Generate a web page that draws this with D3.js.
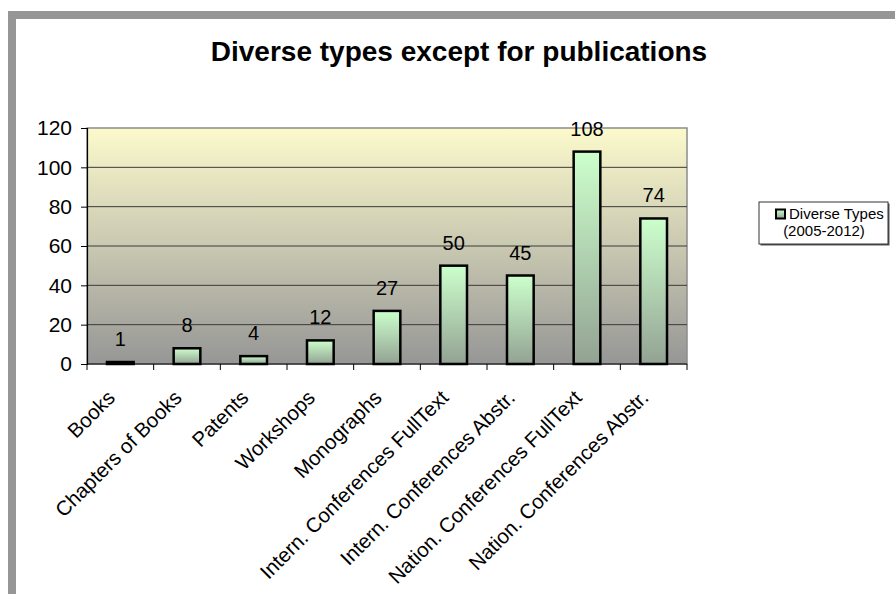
<!DOCTYPE html>
<html>
<head>
<meta charset="utf-8">
<script src="https://cdn.jsdelivr.net/npm/d3@7"></script>
<style>
  body { margin: 0; background: #fff; }
  svg { display: block; font-family: Arial, "Liberation Sans", sans-serif; }
</style>
</head>
<body>
<div id="chart"></div>
<script>
// Chart data
const categories = [
  'Books', 'Chapters of Books', 'Patents', 'Workshops', 'Monographs',
  'Intern. Conferences FullText', 'Intern. Conferences Abstr.',
  'Nation. Conferences FullText', 'Nation. Conferences Abstr.'
];
const values = [1, 8, 4, 12, 27, 50, 45, 108, 74];
const yTicks = [0, 20, 40, 60, 80, 100, 120];
const seriesName = ['Diverse Types', '(2005-2012)'];
const title = 'Diverse types except for publications';

const W = 895, H = 594;
const plot = { left: 87, top: 128, right: 687, bottom: 364 };

const svg = d3.select('#chart').append('svg')
  .attr('width', W)
  .attr('height', H);

const defs = svg.append('defs');

// plot area background gradient (pale yellow -> gray)
const bgGrad = defs.append('linearGradient')
  .attr('id', 'bgGrad')
  .attr('x1', 0).attr('y1', 0).attr('x2', 0).attr('y2', 1);
bgGrad.append('stop').attr('offset', '0%').attr('stop-color', '#fcfacc');
bgGrad.append('stop').attr('offset', '100%').attr('stop-color', '#969696');

// bar gradient (light green -> gray green)
const barGrad = defs.append('linearGradient')
  .attr('id', 'barGrad')
  .attr('x1', 0).attr('y1', 0).attr('x2', 0).attr('y2', 1);
barGrad.append('stop').attr('offset', '0%').attr('stop-color', '#ccffcc');
barGrad.append('stop').attr('offset', '100%').attr('stop-color', '#93a293');

// outer gray frame (cut off at right and bottom)
svg.append('rect')
  .attr('x', 12).attr('y', 15)
  .attr('width', W + 20).attr('height', H + 20)
  .attr('fill', 'none')
  .attr('stroke', '#969696')
  .attr('stroke-width', 8);

// title
svg.append('text')
  .attr('x', 459)
  .attr('y', 61)
  .attr('text-anchor', 'middle')
  .attr('font-size', '28px')
  .attr('font-weight', 'bold')
  .attr('fill', '#000')
  .text(title);

// scales
const x = d3.scaleBand()
  .domain(categories)
  .range([plot.left, plot.right])
  .paddingInner(0.6)
  .paddingOuter(0.3);

const xBand = d3.scaleBand()
  .domain(categories)
  .range([plot.left, plot.right]);

const y = d3.scaleLinear()
  .domain([0, 120])
  .range([plot.bottom, plot.top]);

// plot background
svg.append('rect')
  .attr('x', plot.left)
  .attr('y', plot.top)
  .attr('width', plot.right - plot.left)
  .attr('height', plot.bottom - plot.top)
  .attr('fill', 'url(#bgGrad)')
  .attr('stroke', '#8c8c8c')
  .attr('stroke-width', 1.5);

// gridlines
svg.append('g')
  .selectAll('line')
  .data(yTicks.filter(d => d > 0 && d < 120))
  .join('line')
  .attr('x1', plot.left)
  .attr('x2', plot.right)
  .attr('y1', d => y(d))
  .attr('y2', d => y(d))
  .attr('stroke', '#3a3a3a')
  .attr('stroke-width', 1);

// y axis
const yAxis = svg.append('g')
  .attr('transform', `translate(${plot.left},0)`)
  .call(d3.axisLeft(y).tickValues(yTicks).tickSize(6).tickPadding(9));
yAxis.select('.domain').attr('stroke', '#000').attr('stroke-width', 1.2);
yAxis.selectAll('.tick line').attr('stroke', '#000');
yAxis.selectAll('text')
  .attr('font-size', '21px')
  .attr('font-family', 'Arial, "Liberation Sans", sans-serif')
  .attr('fill', '#000');

// x axis line + ticks at category boundaries
svg.append('line')
  .attr('x1', plot.left).attr('x2', plot.right)
  .attr('y1', plot.bottom).attr('y2', plot.bottom)
  .attr('stroke', '#000').attr('stroke-width', 1.2);

const boundaries = categories.map(c => xBand(c)).concat([plot.right]);
svg.append('g')
  .selectAll('line')
  .data(boundaries)
  .join('line')
  .attr('x1', d => d).attr('x2', d => d)
  .attr('y1', plot.bottom).attr('y2', plot.bottom + 6)
  .attr('stroke', '#000');

// bars
svg.append('g')
  .selectAll('rect')
  .data(values)
  .join('rect')
  .attr('x', (d, i) => x(categories[i]))
  .attr('y', d => y(d))
  .attr('width', x.bandwidth())
  .attr('height', d => y(0) - y(d))
  .attr('fill', 'url(#barGrad)')
  .attr('stroke', '#000')
  .attr('stroke-width', 2.5);

// value labels
svg.append('g')
  .selectAll('text')
  .data(values)
  .join('text')
  .attr('x', (d, i) => x(categories[i]) + x.bandwidth() / 2)
  .attr('y', d => y(d) - 16)
  .attr('text-anchor', 'middle')
  .attr('font-size', '20px')
  .attr('fill', '#000')
  .text(d => d);

// category labels, rotated
svg.append('g')
  .selectAll('text')
  .data(categories)
  .join('text')
  .attr('transform', d => `translate(${xBand(d) + xBand.bandwidth() / 2 - 4},${plot.bottom + 35}) rotate(-45)`)
  .attr('text-anchor', 'end')
  .attr('font-size', '20.5px')
  .attr('fill', '#000')
  .text(d => d);

// legend
const legend = svg.append('g').attr('transform', 'translate(759,202)');
legend.append('rect')
  .attr('x', 1.5).attr('y', 1.5)
  .attr('width', 129).attr('height', 42)
  .attr('fill', '#555');
legend.append('rect')
  .attr('width', 129).attr('height', 42)
  .attr('fill', '#fff')
  .attr('stroke', '#333')
  .attr('stroke-width', 1);
legend.append('rect')
  .attr('x', 17).attr('y', 7.5)
  .attr('width', 9).attr('height', 9)
  .attr('fill', 'url(#barGrad)')
  .attr('stroke', '#000')
  .attr('stroke-width', 2);
legend.append('text')
  .attr('x', 30).attr('y', 17)
  .attr('font-size', '15px')
  .attr('fill', '#000')
  .text(seriesName[0]);
legend.append('text')
  .attr('x', 65).attr('y', 34)
  .attr('text-anchor', 'middle')
  .attr('font-size', '15px')
  .attr('fill', '#000')
  .text(seriesName[1]);
</script>
</body>
</html>
